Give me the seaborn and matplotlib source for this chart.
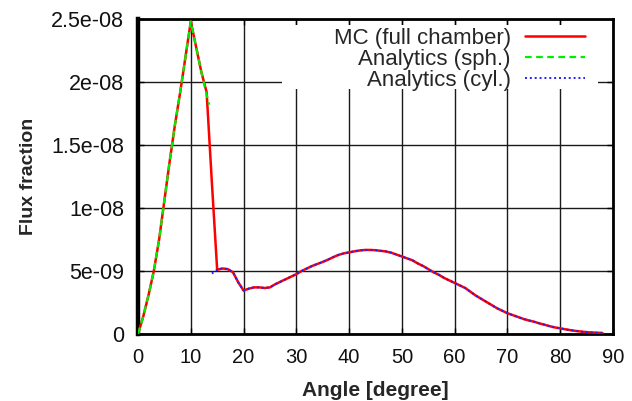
import numpy as np
import pandas as pd
import seaborn as sns
import matplotlib.pyplot as plt
from matplotlib.patches import Rectangle

# Values, flux in units of 1e-9
SCALE = 1e-9

sph_angle = [0, 1, 2, 3, 4, 5, 6, 7, 8, 9, 10, 11, 12, 13, 13.5]
sph_flux = [0, 1.4, 3.1, 5.0, 7.5, 10.6, 13.7, 16.6, 19.2, 22.0, 24.8,
            22.8, 20.8, 19.0, 18.2]

cyl_angle = list(range(14, 89))
cyl_flux = [4.8, 5.1, 5.2, 5.15, 4.9, 4.1, 3.45, 3.6, 3.7, 3.7,
            3.65, 3.7, 3.95, 4.15, 4.35, 4.55, 4.75, 5.0, 5.2, 5.4,
            5.56, 5.72, 5.9, 6.1, 6.28, 6.4, 6.48, 6.56, 6.63, 6.67,
            6.67, 6.65, 6.6, 6.55, 6.45, 6.3, 6.15, 6.0, 5.85, 5.6,
            5.4, 5.15, 4.9, 4.7, 4.45, 4.25, 4.05, 3.85, 3.65, 3.35,
            3.05, 2.8, 2.55, 2.3, 2.05, 1.85, 1.65, 1.5, 1.35, 1.2,
            1.08, 0.98, 0.85, 0.74, 0.62, 0.52, 0.45, 0.37, 0.3, 0.24,
            0.19, 0.15, 0.12, 0.1, 0.08]

# MC follows the spherical model up to 13 deg, drops, then the cylindrical one
mc_angle = [0, 1, 2, 3, 4, 5, 6, 7, 8, 9, 10, 11, 12, 13, 14] + list(range(15, 89))
mc_flux = [0, 1.4, 3.1, 5.0, 7.5, 10.6, 13.7, 16.6, 19.2, 22.0, 24.8,
           22.8, 20.8, 19.2, 12.0] + cyl_flux[1:]

series_labels = ["MC (full chamber)", "Analytics (sph.)", "Analytics (cyl.)"]

xticks = [0, 10, 20, 30, 40, 50, 60, 70, 80, 90]
yticks = [0, 5e-9, 1e-8, 1.5e-8, 2e-8, 2.5e-8]
ytick_labels = ["0", "5e-09", "1e-08", "1.5e-08", "2e-08", "2.5e-08"]


def main():
    sns.set_theme(style="white")
    plt.rcParams["font.family"] = ["Liberation Sans", "DejaVu Sans"]

    fig = plt.figure(figsize=(6.32, 4.01), dpi=100)
    ax = fig.add_axes([138 / 632, 1 - 334 / 401, 475 / 632, 315 / 401])

    mc = pd.DataFrame({"angle": mc_angle, "flux": np.array(mc_flux) * SCALE})
    sph = pd.DataFrame({"angle": sph_angle, "flux": np.array(sph_flux) * SCALE})
    cyl = pd.DataFrame({"angle": cyl_angle, "flux": np.array(cyl_flux) * SCALE})

    sns.lineplot(data=mc, x="angle", y="flux", ax=ax, color="#ff0000",
                 lw=1.8, sort=False, label=series_labels[0], zorder=3)
    sns.lineplot(data=sph, x="angle", y="flux", ax=ax, color="#00ee00",
                 lw=1.6, sort=False, label=series_labels[1], zorder=4,
                 linestyle=(0, (3, 2)))
    sns.lineplot(data=cyl, x="angle", y="flux", ax=ax, color="#2020ff",
                 lw=1.4, sort=False, label=series_labels[2], zorder=5,
                 linestyle=(0, (1, 1.5)))

    ax.set_xlim(0, 90)
    ax.set_ylim(0, 2.5e-8)
    ax.set_xticks(xticks)
    ax.set_yticks(yticks, labels=ytick_labels)
    ax.tick_params(axis="both", direction="in", length=4.5, width=1,
                   top=True, right=True, bottom=True, left=True,
                   color="black", labelcolor="#111111")
    ax.tick_params(axis="x", labelsize=14.5, pad=10)
    ax.tick_params(axis="y", labelsize=15.5, pad=10)

    ax.set_axisbelow(True)
    ax.grid(True, color="#1a1a1a", lw=1.0)

    for side, sp in ax.spines.items():
        sp.set_visible(True)
        sp.set_color("black")
        sp.set_linewidth(3.2 if side == "left" else 2.0)

    # white box behind the key, as in the original
    ax.add_patch(Rectangle((0.303, 0.778), 0.665, 0.203, transform=ax.transAxes,
                           facecolor="white", edgecolor="none", zorder=1))

    ax.legend(loc="upper right", bbox_to_anchor=(0.977, 1.025),
              frameon=False, fontsize=16, markerfirst=False,
              handlelength=2.7, handletextpad=0.65, labelspacing=0.0,
              borderpad=0.25)

    ax.set_xlabel("Angle [degree]", fontsize=15, fontweight="bold", labelpad=10)
    ax.set_ylabel("Flux fraction", fontsize=14, fontweight="bold", labelpad=10)

    fig.savefig("out.png", dpi=100)


if __name__ == "__main__":
    main()
